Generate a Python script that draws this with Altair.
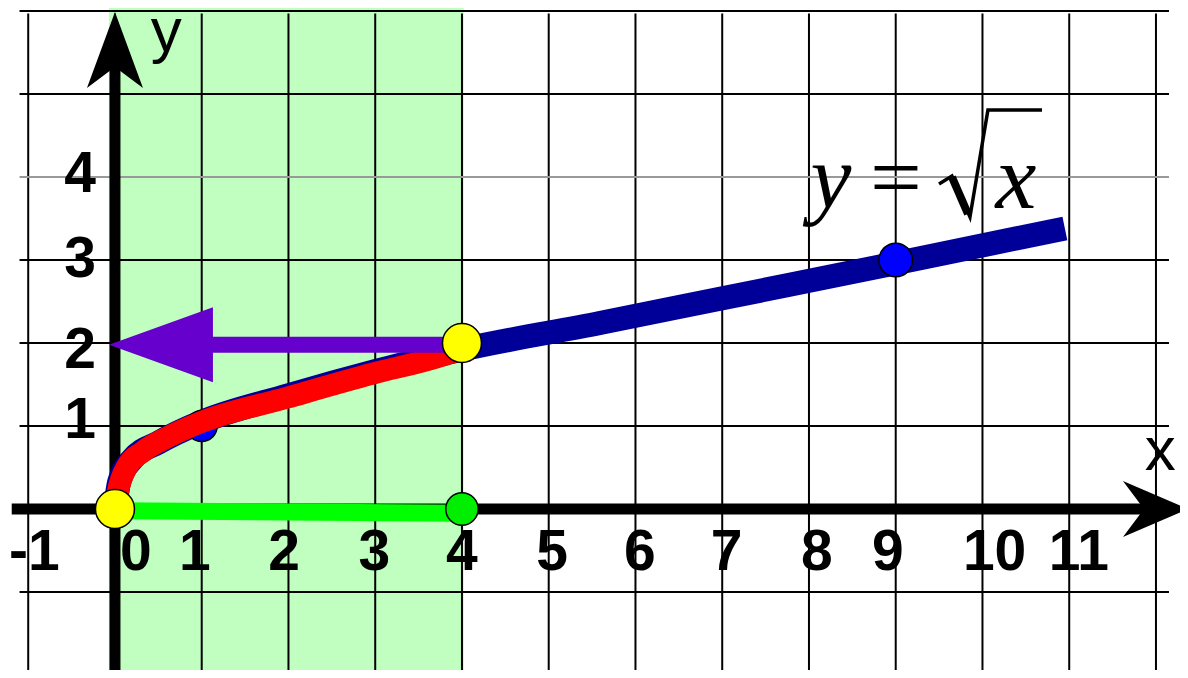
import altair as alt
import pandas as pd

# ---------------- data ----------------
grid_x = [-1, 0, 1, 2, 3, 4, 5, 6, 7, 8, 9, 10, 11, 12]
grid_y = [-2, -1, 0, 1, 2, 3, 4, 5, 6]
grid_y_color = ["black", "black", "black", "black", "black", "black", "#999999", "black", "black"]

# blue curve y = sqrt(x)
blue_x = [0, 0.05, 0.2, 0.5, 1, 2, 3, 4, 5.59, 6.96, 9, 10.95]
blue_y = [0, 0.33, 0.6, 0.8, 1.05, 1.37, 1.66, 1.92, 2.24, 2.53, 2.96, 3.38]

# red part of the curve (0 <= x <= 4)
red_x = [0, 0.03, 0.14, 0.32, 0.6, 0.98, 1.98, 2.97, 3.75, 4.0]
red_y = [0, 0.19, 0.51, 0.69, 0.86, 1.04, 1.34, 1.63, 1.84, 1.93]

# green segment on the x axis
green_x = [0, 4]
green_y = [-0.02, -0.05]

# marked points
yellow_pts_x = [0, 4]
yellow_pts_y = [0, 2]
blue_small_x, blue_small_y = [1], [1]
blue_big_x, blue_big_y = [9], [3]
green_pt_x, green_pt_y = [4], [0]

# shaded band
band_x = [-0.07, 4.02]

# tick labels
xlab_text = ["-1", "0", "1", "2", "3", "4", "5", "6", "7", "8", "9", "10", "11"]
xlab_pos = [-0.93, 0.24, 0.92, 1.95, 2.99, 4.0, 5.04, 6.05, 7.05, 8.09, 8.91, 10.14, 11.11]
ylab_text = ["4", "3", "2", "1"]
ylab_pos = [3.82, 2.8, 1.7, 0.855]

# radical sign of the formula (thin outline and thick down-stroke)
rad_x = [9.499, 9.648, 9.856, 10.063, 10.686]
rad_y = [3.916, 4.012, 3.518, 4.807, 4.807]
rad_thick_x = [9.648, 9.833]
rad_thick_y = [4.0, 3.554]

# ---------------- scales ----------------
XMIN, XMAX = -1.233, 12.277
YMIN, YMAX = -1.940, 6.036
W, H = 1172, 662

xs = alt.Scale(domain=[XMIN, XMAX], nice=False, zero=False)
ys = alt.Scale(domain=[YMIN, YMAX], nice=False, zero=False)


def X(f):
    return alt.X(f, type="quantitative", scale=xs, axis=None)


def Y(f):
    return alt.Y(f, type="quantitative", scale=ys, axis=None)


# ---------------- layers ----------------
band = alt.Chart(pd.DataFrame({"x0": [band_x[0]], "x1": [band_x[1]], "y0": [-2.1], "y1": [YMAX]})).mark_rect(
    color="#C0FFC0"
).encode(x=X("x0"), x2="x1", y=Y("y0"), y2="y1")

vgrid = alt.Chart(pd.DataFrame({"x": grid_x, "y0": -2.1, "y1": 5.97})).mark_rule(
    color="black", strokeWidth=2
).encode(x=X("x"), y=Y("y0"), y2="y1")

hgrid = alt.Chart(pd.DataFrame({"y": grid_y, "c": grid_y_color, "x0": -1.1, "x1": 12.15})).mark_rule(
    strokeWidth=2
).encode(y=Y("y"), x=X("x0"), x2="x1", color=alt.Color("c:N", scale=None))

yaxis = alt.Chart(pd.DataFrame({"x": [0], "y0": [-2.1], "y1": [5.4]})).mark_rule(
    color="black", strokeWidth=11
).encode(x=X("x"), y=Y("y0"), y2="y1")

xaxis = alt.Chart(pd.DataFrame({"y": [0], "x0": [-1.19], "x1": [11.9]})).mark_rule(
    color="black", strokeWidth=11
).encode(y=Y("y"), x=X("x0"), x2="x1")

ARROW_UP = "M0,-1 L0.737,1 L0,0.447 L-0.737,1 Z"
ARROW_RIGHT = "M1,0 L-1,0.862 L-0.354,0 L-1,-0.862 Z"
ARROW_LEFT = "M-1,0 L1,-0.721 L1,0.721 Z"

yhead = alt.Chart(pd.DataFrame({"x": [0], "y": [5.53]})).mark_point(
    shape=ARROW_UP, filled=True, size=5776, color="black", opacity=1, strokeWidth=0
).encode(x=X("x"), y=Y("y"))

xhead = alt.Chart(pd.DataFrame({"x": [11.994], "y": [0]})).mark_point(
    shape=ARROW_RIGHT, filled=True, size=4225, color="black", opacity=1, strokeWidth=0
).encode(x=X("x"), y=Y("y"))

blue_curve = alt.Chart(pd.DataFrame({"x": blue_x, "y": blue_y, "o": range(len(blue_x))})).mark_line(
    color="#000099", strokeWidth=24, strokeCap="butt", interpolate="monotone"
).encode(x=X("x"), y=Y("y"), order="o:Q")

blue_small = alt.Chart(pd.DataFrame({"x": blue_small_x, "y": blue_small_y})).mark_circle(
    size=960, fill="#0000FF", stroke="black", strokeWidth=1.5, opacity=1
).encode(x=X("x"), y=Y("y"))

red_curve = alt.Chart(pd.DataFrame({"x": red_x, "y": red_y, "o": range(len(red_x))})).mark_line(
    color="#FF0000", strokeWidth=22, strokeCap="round", strokeJoin="round", interpolate="monotone"
).encode(x=X("x"), y=Y("y"), order="o:Q")

green_line = alt.Chart(pd.DataFrame({"x": green_x, "y": green_y})).mark_line(
    color="#00FF00", strokeWidth=17, strokeCap="butt"
).encode(x=X("x"), y=Y("y"))

green_pt = alt.Chart(pd.DataFrame({"x": green_pt_x, "y": green_pt_y})).mark_circle(
    size=1050, fill="#00EE00", stroke="black", strokeWidth=1.5, opacity=1
).encode(x=X("x"), y=Y("y"))

purple_shaft = alt.Chart(pd.DataFrame({"y": [1.98], "x0": [1.1], "x1": [4.0]})).mark_rule(
    color="#6600CC", strokeWidth=16
).encode(y=Y("y"), x=X("x0"), x2="x1")

purple_head = alt.Chart(pd.DataFrame({"x": [0.53], "y": [1.98]})).mark_point(
    shape=ARROW_LEFT, filled=True, size=10816, color="#6600CC", opacity=1, strokeWidth=0
).encode(x=X("x"), y=Y("y"))

yellow = alt.Chart(pd.DataFrame({"x": yellow_pts_x, "y": yellow_pts_y})).mark_circle(
    size=1520, fill="#FFFF00", stroke="black", strokeWidth=1.5, opacity=1
).encode(x=X("x"), y=Y("y"))

blue_big = alt.Chart(pd.DataFrame({"x": blue_big_x, "y": blue_big_y})).mark_circle(
    size=1130, fill="#0000FF", stroke="black", strokeWidth=1.5, opacity=1
).encode(x=X("x"), y=Y("y"))

xlabels = alt.Chart(pd.DataFrame({"x": xlab_pos, "y": -0.735, "t": xlab_text})).mark_text(
    font="Liberation Sans", fontWeight="bold", fontSize=57, align="center", baseline="alphabetic", color="black"
).encode(x=X("x"), y=Y("y"), text="t:N")

ylabels = alt.Chart(pd.DataFrame({"x": -0.22, "y": ylab_pos, "t": ylab_text})).mark_text(
    font="Liberation Sans", fontWeight="bold", fontSize=57, align="right", baseline="alphabetic", color="black"
).encode(x=X("x"), y=Y("y"), text="t:N")

axis_names = alt.Chart(pd.DataFrame({"x": [0.59, 12.05], "y": [5.52, 0.47], "t": ["y", "x"]})).mark_text(
    font="Liberation Sans", fontSize=62, align="center", baseline="alphabetic", color="black"
).encode(x=X("x"), y=Y("y"), text="t:N")

formula_it = alt.Chart(pd.DataFrame({"x": [8.254, 10.386], "y": [3.627, 3.627], "t": ["y", "x"]})).mark_text(
    font="Liberation Serif", fontStyle="italic", fontSize=92, align="center", baseline="alphabetic", color="black"
).encode(x=X("x"), y=Y("y"), text="t:N")

formula_eq = alt.Chart(pd.DataFrame({"x": [9.003], "y": [3.627], "t": ["="]})).mark_text(
    font="Liberation Serif", fontSize=92, align="center", baseline="alphabetic", color="black"
).encode(x=X("x"), y=Y("y"), text="t:N")

radical = alt.Chart(pd.DataFrame({"x": rad_x, "y": rad_y, "o": range(len(rad_x))})).mark_line(
    color="black", strokeWidth=3.5, strokeJoin="miter"
).encode(x=X("x"), y=Y("y"), order="o:Q")

radical_thick = alt.Chart(pd.DataFrame({"x": rad_thick_x, "y": rad_thick_y})).mark_line(
    color="black", strokeWidth=8
).encode(x=X("x"), y=Y("y"))

chart = alt.layer(
    band, vgrid, hgrid, yaxis, xaxis, yhead, xhead,
    blue_curve, blue_small, red_curve, green_line, green_pt,
    purple_shaft, purple_head, yellow, blue_big,
    xlabels, ylabels, axis_names, formula_it, formula_eq, radical, radical_thick,
).properties(
    width=W, height=H, padding=0, autosize=alt.AutoSizeParams(type="none")
).configure_view(stroke=None)

chart.save("out.html", embed_options={"renderer": "svg", "actions": False})
